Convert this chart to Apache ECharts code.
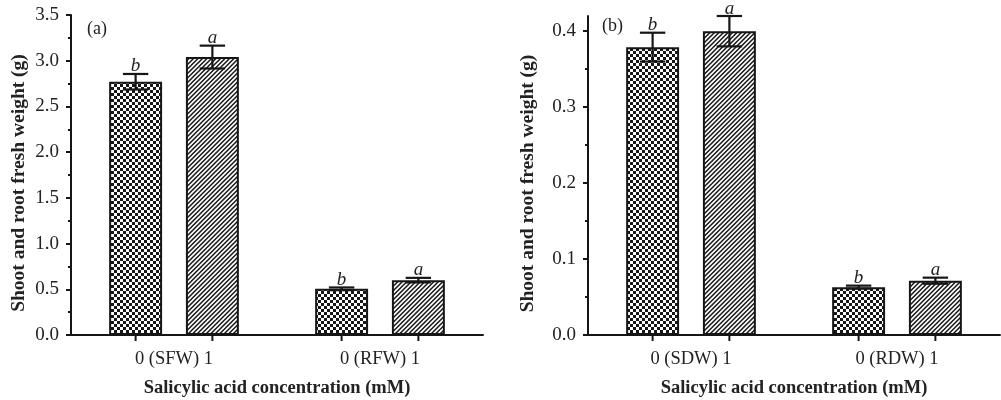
<!DOCTYPE html>
<html>
<head>
<meta charset="utf-8">
<script src="https://cdn.jsdelivr.net/npm/echarts@6/dist/echarts.min.js"></script>
<style>
  html, body { margin: 0; padding: 0; background: #fff; }
  #chart { width: 1001px; height: 400px; }
</style>
</head>
<body>
<div id="chart"></div>
<script>
// data
var groupsA = ['0 (SFW) 1', '0 (RFW) 1'];
var groupsB = ['0 (SDW) 1', '0 (RDW) 1'];
// panel (a): fresh weight
var ctrlA = [2.77, 0.505];
var saA = [3.04, 0.60];
var ctrlErrA = [0.085, 0.015];
var saErrA = [0.125, 0.025];
// panel (b): dry weight
var ctrlB = [0.379, 0.063];
var saB = [0.400, 0.0715];
var ctrlErrB = [0.019, 0.002];
var saErrB = [0.020, 0.004];
// significance letters
var ctrlLetters = ['b', 'b'];
var saLetters = ['a', 'a'];
// y tick labels
var yTicksA = [0, 0.5, 1.0, 1.5, 2.0, 2.5, 3.0, 3.5];
var yTicksB = [0, 0.1, 0.2, 0.3, 0.4];

var FONT = "'Liberation Serif', 'Times New Roman', serif";
var INK = '#161616';
var BAR_FRAC = 0.257;   // bar width / category band
var BAR_GAP = 0.45;     // gap between the two bars / bar width

// checkerboard fill
function checker() {
    var c = document.createElement('canvas');
    c.width = c.height = 6;
    var g = c.getContext('2d');
    g.fillStyle = '#fff';
    g.fillRect(0, 0, 6, 6);
    g.fillStyle = INK;
    g.fillRect(0, 0, 3, 3);
    g.fillRect(3, 3, 3, 3);
    return c;
}
// "/" hatch fill
function hatch() {
    var n = 9;
    var c = document.createElement('canvas');
    c.width = c.height = n;
    var g = c.getContext('2d');
    g.fillStyle = '#fff';
    g.fillRect(0, 0, n, n);
    g.strokeStyle = INK;
    g.lineWidth = 1.5;
    g.beginPath();
    for (var k = -4; k <= 8; k++) {
        var o = k * 4.5;
        g.moveTo(o - 20, 20);
        g.lineTo(o + 20, -20);
    }
    g.stroke();
    return c;
}

var checkerFill = { image: checker(), repeat: 'repeat' };
var hatchFill = { image: hatch(), repeat: 'repeat' };

function barSeries(ax, values, fill) {
    return {
        type: 'bar',
        xAxisIndex: ax,
        yAxisIndex: ax,
        data: values,
        barWidth: (BAR_FRAC * 100) + '%',
        barGap: (BAR_GAP * 100) + '%',
        itemStyle: { color: fill, borderColor: INK, borderWidth: 2 },
        z: 2
    };
}

// error bars + letters + x ticks under each bar
function errSeries(ax, values, errs, letters, side) {
    return {
        type: 'custom',
        xAxisIndex: ax,
        yAxisIndex: ax,
        z: 10,
        clip: false,
        data: values.map(function (v, i) { return [i, v, errs[i]]; }),
        renderItem: function (params, api) {
            var i = api.value(0), v = api.value(1), e = api.value(2);
            var band = api.size([1, 0])[0];
            var barW = band * BAR_FRAC;
            var off = side * barW * (1 + BAR_GAP) / 2;
            var hi = api.coord([i, v + e]);
            var lo = api.coord([i, v - e]);
            var base = api.coord([i, 0]);
            var x = hi[0] + off;
            var cap = barW * 0.24;
            var ls = { stroke: INK, lineWidth: 2.2 };
            return {
                type: 'group',
                children: [
                    { type: 'line', shape: { x1: x, y1: hi[1], x2: x, y2: lo[1] }, style: ls },
                    { type: 'line', shape: { x1: x - cap, y1: hi[1], x2: x + cap, y2: hi[1] }, style: ls },
                    { type: 'line', shape: { x1: x - cap, y1: lo[1], x2: x + cap, y2: lo[1] }, style: ls },
                    { type: 'line', shape: { x1: x, y1: base[1], x2: x, y2: base[1] + 6 }, style: { stroke: INK, lineWidth: 2 } },
                    {
                        type: 'text', x: x, y: hi[1] + 2,
                        style: {
                            text: letters[params.dataIndex], fill: '#222',
                            font: 'italic 19px ' + FONT,
                            align: 'center', verticalAlign: 'bottom'
                        }
                    }
                ]
            };
        }
    };
}

function yAxis(grid, max, interval, ticks) {
    return {
        type: 'value',
        gridIndex: grid,
        min: 0,
        max: max,
        interval: interval,
        name: 'Shoot and root fresh weight (g)',
        nameLocation: 'middle',
        nameGap: grid === 0 ? 42 : 50,
        nameTextStyle: { fontFamily: FONT, fontWeight: 'bold', fontSize: 19.5, color: '#222', padding: [0, 16, 0, 0] },
        axisLine: { show: true, lineStyle: { color: INK, width: 2 } },
        axisTick: { show: true, length: 5, customValues: ticks, lineStyle: { color: INK, width: 2 } },
        minorTick: { show: true, splitNumber: 2, length: 3, lineStyle: { color: INK, width: 2 } },
        splitLine: { show: false },
        axisLabel: {
            customValues: ticks,
            margin: 12,
            fontFamily: FONT,
            fontSize: 19,
            color: '#222',
            formatter: function (v) { return v.toFixed(1); }
        }
    };
}

function xAxis(grid, cats) {
    return {
        type: 'category',
        gridIndex: grid,
        data: cats,
        name: 'Salicylic acid concentration (mM)',
        nameLocation: 'middle',
        nameGap: 44,
        nameTextStyle: { fontFamily: FONT, fontWeight: 'bold', fontSize: 18.5, color: '#222' },
        axisLine: { lineStyle: { color: INK, width: 2 } },
        axisTick: { show: false },
        axisLabel: { margin: 15, fontFamily: FONT, fontSize: 18.5, color: '#222' }
    };
}

var myChart = echarts.init(document.getElementById('chart'), null, { renderer: 'canvas' });

var option = {
    animation: false,
    backgroundColor: '#fff',
    grid: [
        { left: 71, top: 15, width: 412, height: 320, outerBoundsMode: 'none' },
        { left: 588, top: 16, width: 412, height: 319, outerBoundsMode: 'none' }
    ],
    xAxis: [xAxis(0, groupsA), xAxis(1, groupsB)],
    yAxis: [yAxis(0, 3.5, 0.5, yTicksA), yAxis(1, 0.42, 0.1, yTicksB)],
    graphic: [
        { type: 'text', left: 87, top: 20, style: { text: '(a)', font: '18px ' + FONT, fill: '#222' } },
        { type: 'text', left: 602, top: 17, style: { text: '(b)', font: '18px ' + FONT, fill: '#222' } }
    ],
    series: [
        barSeries(0, ctrlA, checkerFill),
        barSeries(0, saA, hatchFill),
        barSeries(1, ctrlB, checkerFill),
        barSeries(1, saB, hatchFill),
        errSeries(0, ctrlA, ctrlErrA, ctrlLetters, -1),
        errSeries(0, saA, saErrA, saLetters, 1),
        errSeries(1, ctrlB, ctrlErrB, ctrlLetters, -1),
        errSeries(1, saB, saErrB, saLetters, 1)
    ]
};

myChart.setOption(option);
</script>
</body>
</html>
